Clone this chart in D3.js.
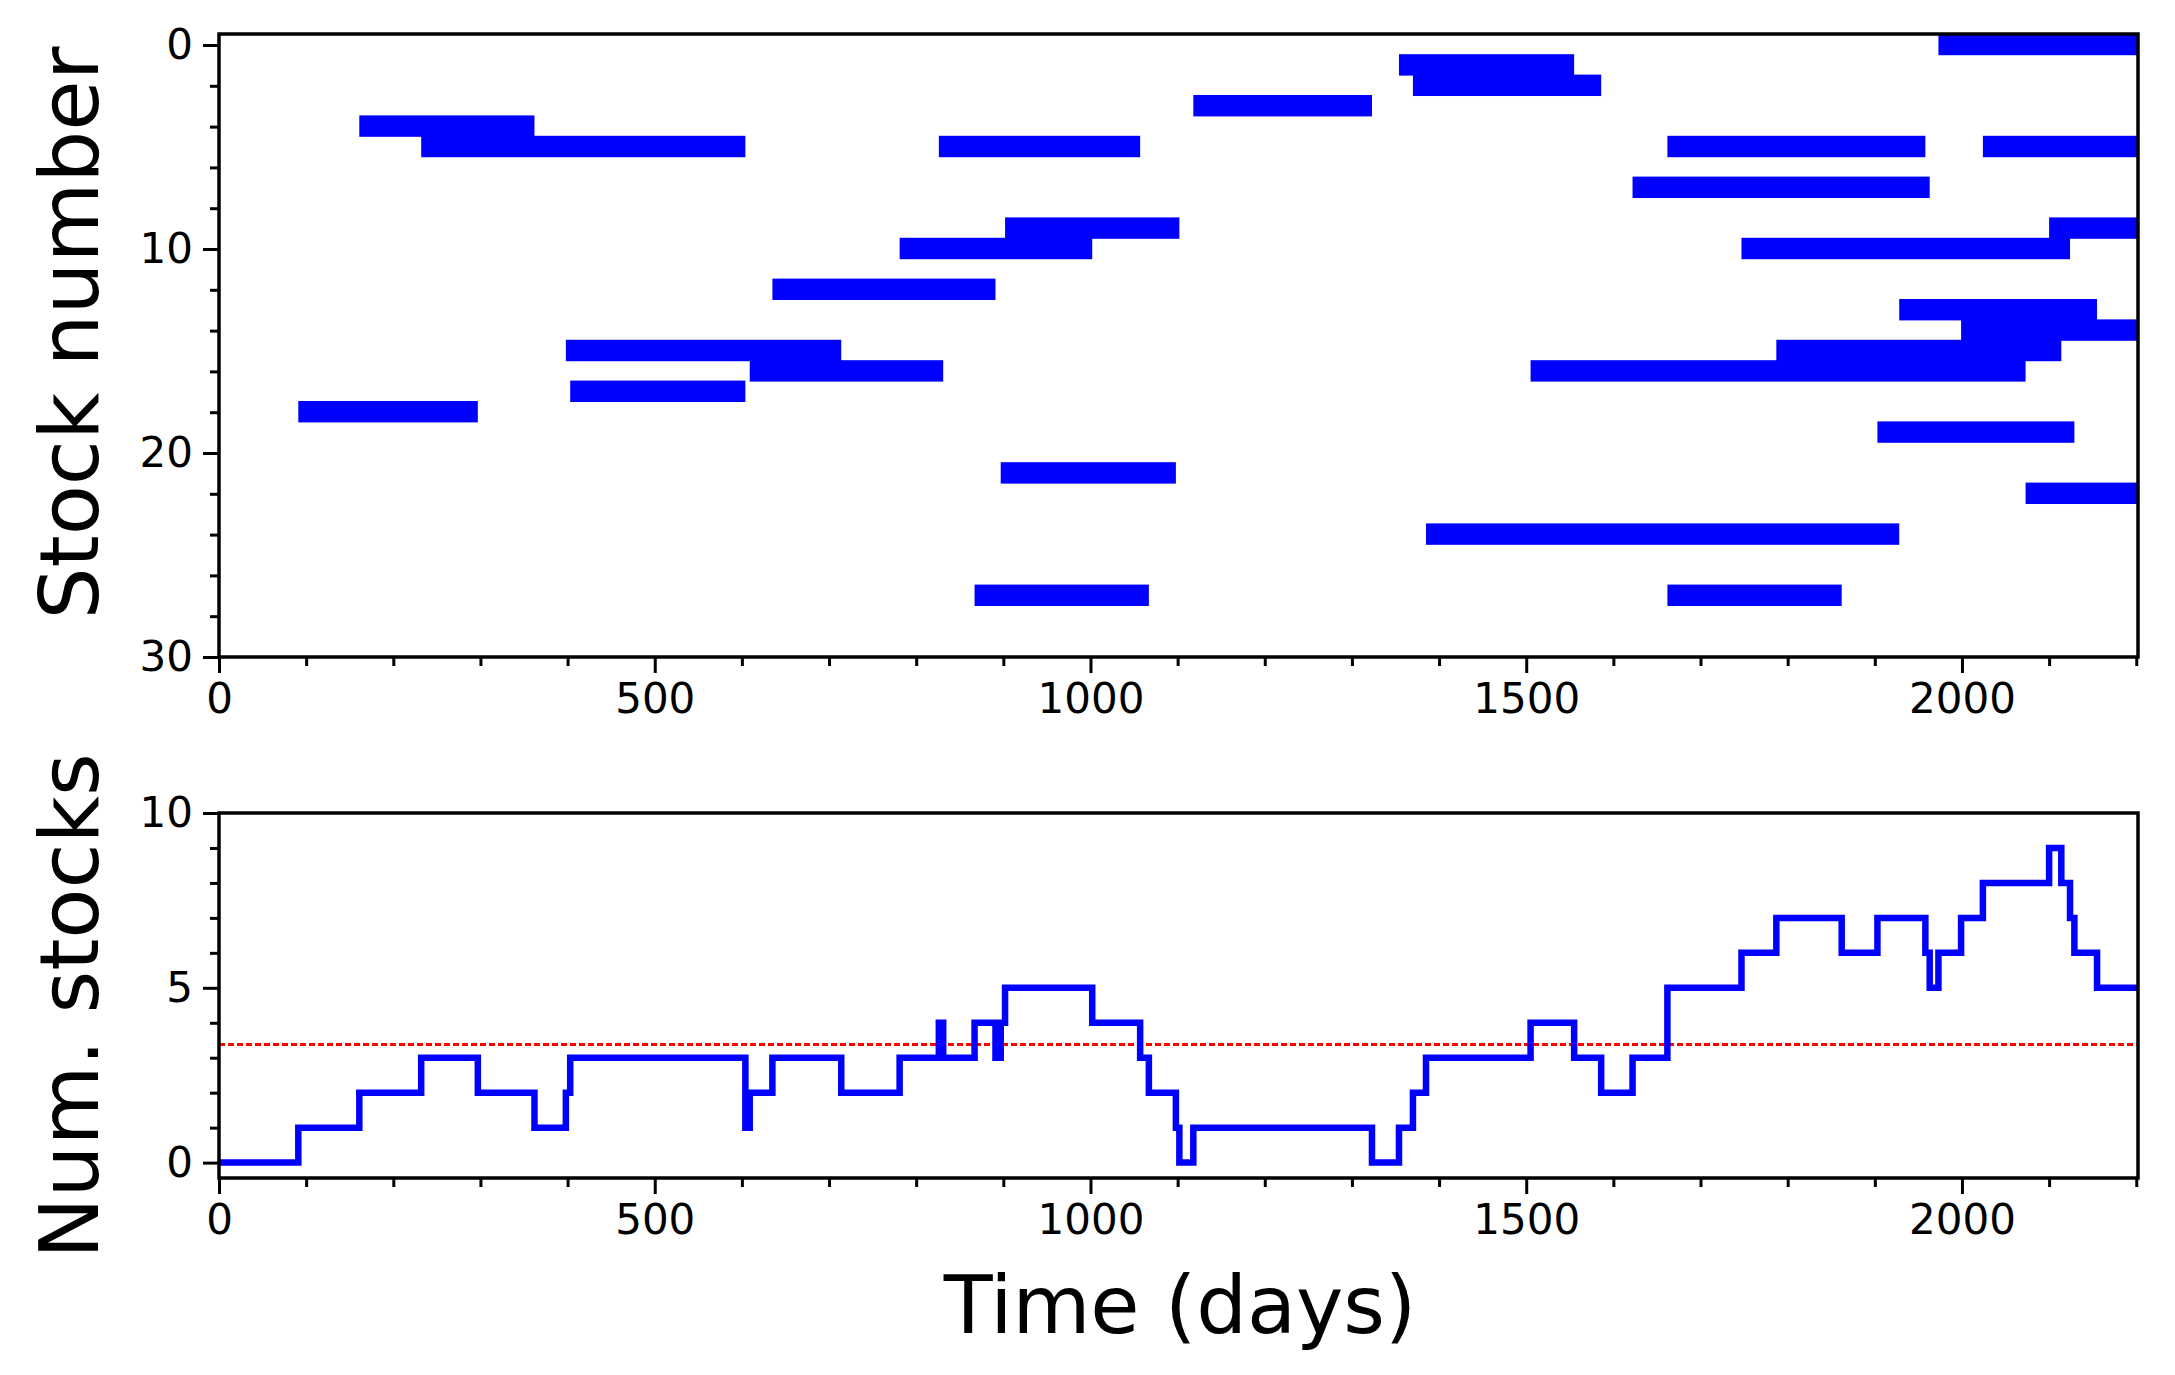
<!DOCTYPE html>
<html><head><meta charset="utf-8">
<script src="https://cdn.jsdelivr.net/npm/d3@7"></script>
<style>body{margin:0;background:#fff}text{font-family:"DejaVu Sans",sans-serif}</style>
</head><body><svg id="c" width="2175" height="1375"></svg>
<script>
// holding intervals: [stock number, start day, end day]
const stockRows   = [18, 4, 5, 15, 17, 12, 16, 10, 5, 27, 21, 9, 3, 1, 2, 24, 16, 7, 5, 27, 10, 15, 19, 13, 0, 14, 5, 22, 9];
const startDays   = [91,161,232,398,403,635,609,781,826,867,897,902,1118,1354,1370,1385,1505,1622,1662,1662,1747,1787,1903,1928,1973,1999,2024,2073,2100];
const endDays     = [297,362,604,714,604,891,831,1002,1057,1067,1098,1102,1323,1555,1586,1928,2073,1963,1958,1862,2124,2114,2129,2155,2202,2202,2202,2202,2202];
// number of stocks held (step changes)
const stepDays  = [0,91,161,232,297,362,398,403,604,609,635,714,781,826,831,867,891,897,902,1002,1057,1067,1098,1102,1118,1323,1354,1370,1385,1505,1555,1586,1622,1662,1747,1787,1862,1903,1958,1963,1973,1999,2024,2100,2114,2124,2129,2155,2202];
const stepCount = [0,1,2,3,2,1,2,3,1,2,3,2,3,4,3,4,3,4,5,4,3,2,1,0,1,0,1,2,3,4,3,2,3,5,6,7,6,7,6,5,6,7,8,9,8,7,6,5,5];
const meanCount = 3.38;
const xTicks = [0,500,1000,1500,2000];
const topYTicks = [0,10,20,30];
const botYTicks = [0,5,10];

const svg = d3.select("#c");
const L=219, R=2138;
const x = d3.scaleLinear().domain([0,2202]).range([L,R]);
const yTop = d3.scaleLinear().domain([-0.54,30]).range([34,657]);
const yBot = d3.scaleLinear().domain([-0.44,10]).range([1178,813]);

function axes(y, top, bottom, yticks, yminor){
  svg.append("g").attr("transform",`translate(0,${bottom})`)
    .call(d3.axisBottom(x).tickValues(xTicks).tickSize(16).tickPadding(10).tickFormat(d3.format("d")));
  svg.append("g").attr("transform",`translate(0,${bottom})`)
    .call(d3.axisBottom(x).tickValues(d3.range(0,2201,100).filter(v=>v%500)).tickSize(9).tickFormat(""));
  svg.append("g").attr("transform",`translate(${L},0)`)
    .call(d3.axisLeft(y).tickValues(yticks).tickSize(16).tickPadding(10));
  svg.append("g").attr("transform",`translate(${L},0)`)
    .call(d3.axisLeft(y).tickValues(yminor).tickSize(9).tickFormat(""));
  svg.selectAll(".domain").remove();
  svg.selectAll(".tick line").attr("stroke","#000").attr("stroke-width",3);
  svg.selectAll(".tick text").attr("font-size",42).attr("fill","#000");
  svg.append("rect").attr("x",L).attr("y",top).attr("width",R-L).attr("height",bottom-top)
    .attr("fill","none").attr("stroke","#000").attr("stroke-width",3.5);
}

const bars = stockRows.map((r,i)=>({r, s:startDays[i], e:endDays[i]})).sort((a,b)=>b.r-a.r);
svg.append("g").selectAll("rect").data(bars).join("rect")
  .attr("x",d=>x(d.s)).attr("width",d=>x(d.e)-x(d.s))
  .attr("y",d=>yTop(d.r-0.55)).attr("height",d=>yTop(d.r+0.5)-yTop(d.r-0.55))
  .attr("fill","#0000ff");
axes(yTop, 34, 657, topYTicks, d3.range(2,30,2).filter(v=>v%10));

svg.append("line").attr("x1",L).attr("x2",R).attr("y1",yBot(meanCount)).attr("y2",yBot(meanCount))
  .attr("stroke","#ff0000").attr("stroke-width",3).attr("stroke-dasharray","6,3");
const pts = stepDays.map((d,i)=>[d,stepCount[i]]);
svg.append("path").datum(pts)
  .attr("d",d3.line().x(d=>x(d[0])).y(d=>yBot(d[1])).curve(d3.curveStepAfter))
  .attr("fill","none").attr("stroke","#0000ff").attr("stroke-width",6.5);
axes(yBot, 813, 1178, botYTicks, [1,2,3,4,6,7,8,9]);

svg.append("text").attr("transform","translate(98,333) rotate(-90)").attr("text-anchor","middle")
  .attr("font-size",82).text("Stock number");
svg.append("text").attr("transform","translate(98,1006) rotate(-90)").attr("text-anchor","middle")
  .attr("font-size",82).text("Num. stocks");
svg.append("text").attr("x",1180).attr("y",1333).attr("text-anchor","middle")
  .attr("font-size",80).text("Time (days)");
</script></body></html>
